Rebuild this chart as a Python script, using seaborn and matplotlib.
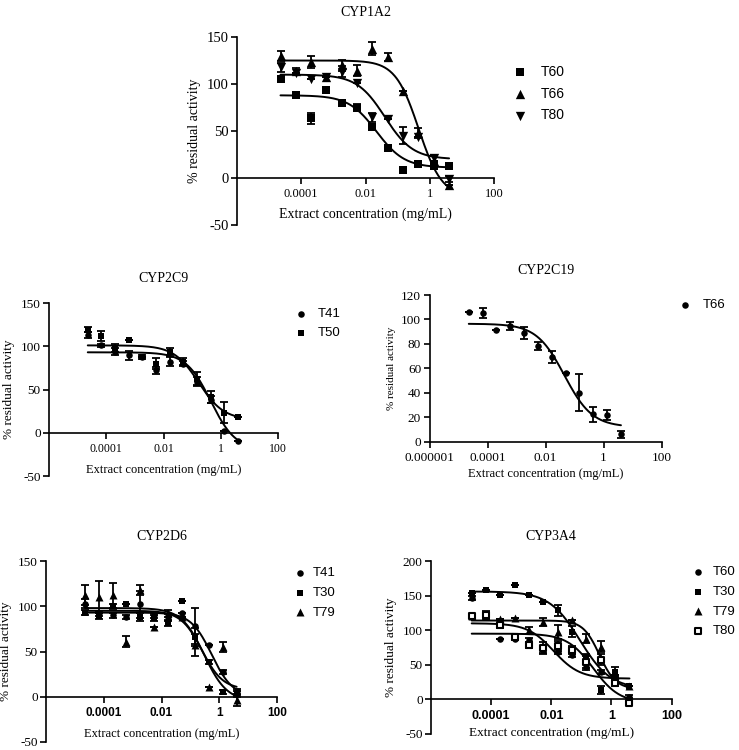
import numpy as np
import matplotlib
matplotlib.use('Agg')
import matplotlib.pyplot as plt
import seaborn as sns

# extract concentrations (mg/mL), serial 3-fold dilution
conc = [0.0000226, 0.0000677, 0.000203, 0.00061, 0.00183, 0.00549,
        0.0165, 0.0494, 0.148, 0.444, 1.333, 4.0]

# CYP1A2
cyp1a2_t60 = [105, 88, 63.5, 93.5, 79.4, 74.8, 54.7, 31.8, 8.8, 14.8, 12.4, 13.1]
cyp1a2_t60_err = [3, 0, 6, 0, 2, 4, 3, 0, 0, 0, 0, 0]
cyp1a2_t66 = [129.6, 114, 123.5, 107.6, 120, 114, 137.7, 128.8, 92.5, 47.7, 18, -7]
cyp1a2_t66_err = [5, 3, 6, 0, 6, 6, 7, 4, 0, 5, 0, 0]
cyp1a2_t80 = [117.6, 112, 104.9, 107, 113, 100.6, 64.6, 62.5, 45, 44, 21.2, -1]
cyp1a2_t80_err = [5, 0, 0, 0, 6, 0, 5, 0, 9, 0, 3, 3]

# CYP2C9
cyp2c9_t41 = [113, 101, 93.5, 89.6, 87.7, 72, 82, 80, 59, 38, 2, -9.2]
cyp2c9_t41_err = [3, 2, 4, 5, 2, 4, 5, 3, 5, 4, 0, 0]
cyp2c9_t50 = [119, 111.6, 98, 107, 88, 80, 93.5, 82, 62.7, 41.5, 23, 17.7]
cyp2c9_t50_err = [3, 6, 5, 0, 0, 6, 5, 4, 8, 7, 12, 0]

# CYP2C19
cyp2c19_t66 = [106.4, 105, 91.4, 94.6, 89.2, 78.3, 69, 55.9, 40, 22.4, 21.8, 6]
cyp2c19_t66_err = [0, 4, 0, 3, 5, 3, 5, 0, 15, 6, 4, 3]

# CYP2D6
cyp2d6_t41 = [103, 92, 90, 88, 102, 90, 88, 92, 78, 57, 27.6, 6]
cyp2d6_t41_err = [5, 3, 3, 2, 15, 3, 3, 0, 20, 0, 2, 3]
cyp2d6_t30 = [93, 89, 100, 102, 88, 87, 81, 105.8, 66, 38.6, 5, 3]
cyp2d6_t30_err = [3, 3, 3, 0, 4, 3, 3, 0, 10, 2, 2, 3]
cyp2d6_t79 = [112, 110, 112, 60.6, 118, 77, 92, 88, 57, 10.3, 55, -4]
cyp2d6_t79_err = [11, 18, 14, 6, 6, 0, 4, 0, 12, 0, 6, 6]

# CYP3A4
cyp3a4_t60 = [147, 120, 87, 88, 85.6, 71, 69, 64, 47, 40, 32, 3.8]
cyp3a4_t60_err = [3, 3, 0, 0, 3, 6, 4, 3, 4, 3, 3, 2]
cyp3a4_t30 = [154, 157.7, 150.5, 165, 150.5, 141, 129, 97.6, 61.5, 13.5, 40, 19.7]
cyp3a4_t30_err = [0, 0, 0, 0, 0, 0, 8, 8, 4, 6, 7, 0]
cyp3a4_t79 = [120, 121, 116.8, 117, 100, 112, 97.6, 114.4, 88, 76, 35, 20]
cyp3a4_t79_err = [0, 0, 0, 0, 5, 6, 10, 0, 6, 8, 0, 0]
cyp3a4_t80 = [120, 122, 107, 90, 78, 75, 77, 71, 54, 57, 23, -5]
cyp3a4_t80_err = [3, 6, 4, 4, 4, 8, 7, 6, 8, 8, 4, 3]

# fitted dose-response curves: top, bottom, IC50 (mg/mL), hill slope
fit_1a2_t60 = [88, 11, 0.022, 1.0]
fit_1a2_t66 = [125, -20, 0.45, 1.2]
fit_1a2_t80 = [110, 20, 0.04, 1.0]
fit_2c9_t41 = [93, -20, 0.45, 1.0]
fit_2c9_t50 = [101, 15, 0.17, 1.0]
fit_2c19_t66 = [96.5, 12, 0.045, 0.9]
fit_2d6_t41 = [93, 0, 0.55, 1.2]
fit_2d6_t30 = [95, 8, 0.25, 1.2]
fit_2d6_t79 = [98, -5, 0.3, 1.1]
fit_3a4_t60 = [95, -5, 0.25, 1.0]
fit_3a4_t30 = [156, 15, 0.09, 0.85]
fit_3a4_t79 = [114, 15, 0.4, 1.6]
fit_3a4_t80 = [110, 30, 0.012, 1.0]

SERIF = 'Liberation Serif'
SANS = 'Liberation Sans'
W, H = 739, 750


def rect(left, top, right, bottom):
    return [left / W, 1 - bottom / H, (right - left) / W, (bottom - top) / H]


def four_pl(x, p):
    top, bottom, ic50, hill = p
    return bottom + (top - bottom) / (1 + (x / ic50) ** hill)


def draw_panel(fig, box, title, series, ylim, yticks, xticks, xticklabels,
               bold_x=False, ms=22, fs_x=9, fs_y=10, xl=9, yl=9.5,
               xlpad=6, leg=None):
    ax = fig.add_axes(rect(*box))
    xs = np.logspace(np.log10(conc[0]), np.log10(conc[-1]), 200)
    for label, vals, err, fit, marker, filled in series:
        sns.lineplot(x=xs, y=four_pl(xs, fit), ax=ax, color='black', lw=1.4)
        ax.errorbar(conc, vals, yerr=err, fmt='none', ecolor='black',
                    elinewidth=1.3, capsize=3, capthick=1.3, zorder=3)
        size = ms * 1.5 if marker in ('^', 'v') else ms
        sns.scatterplot(x=conc, y=vals, ax=ax, marker=marker, s=size,
                        color='black' if filled else 'white',
                        edgecolor='black', linewidth=0 if filled else 1.5,
                        zorder=4, label=label)
    ax.set_xscale('log')
    ax.set_xlim(1e-6, 100)
    ax.set_ylim(*ylim)
    # spine position first: moving a spine resets the tick objects
    ax.spines['top'].set_visible(False)
    ax.spines['right'].set_visible(False)
    ax.spines['bottom'].set_position(('data', 0))
    for s in ('left', 'bottom'):
        ax.spines[s].set_linewidth(1.2)
        ax.spines[s].set_color('black')
    ax.tick_params(axis='both', width=1.2, length=4, direction='out',
                   color='black', labelcolor='black')
    ax.tick_params(axis='y', pad=2)
    ax.tick_params(axis='x', pad=3.5)
    ax.xaxis.set_minor_locator(matplotlib.ticker.NullLocator())
    ax.set_yticks(yticks)
    ax.set_yticklabels([str(t) for t in yticks], family=SERIF, size=fs_y)
    ax.set_xticks(xticks)
    ax.set_xticklabels(xticklabels, family=SANS if bold_x else SERIF,
                       weight='bold' if bold_x else 'normal', size=fs_x)
    ax.set_title(title, family=SERIF, size=10, pad=15)
    ax.set_xlabel('Extract concentration (mg/mL)', family=SERIF,
                  size=xl, labelpad=xlpad)
    ax.set_ylabel('% residual activity', family=SERIF, size=yl, labelpad=4)
    mx, tx, ry, gap, lfs = leg
    fs_px = lfs * 100 / 72
    ax.legend(loc='upper left',
              bbox_to_anchor=((mx - fs_px / 2) / W, 1 - (ry - fs_px * 0.45) / H),
              bbox_transform=fig.transFigure, frameon=False, borderpad=0,
              borderaxespad=0, handlelength=1.0,
              handletextpad=(tx - mx - fs_px / 2) / fs_px,
              labelspacing=(gap - fs_px * 0.99) / fs_px,
              prop={'family': SANS, 'size': lfs})
    return ax


sns.set_style('ticks')
plt.rcParams['axes.unicode_minus'] = False
plt.rcParams['text.color'] = 'black'
plt.rcParams['axes.labelcolor'] = 'black'
plt.rcParams['font.family'] = [SERIF, 'DejaVu Sans']

fig = plt.figure(figsize=(W / 100, H / 100), dpi=100)

even = [1e-4, 1e-2, 1, 100]
even_lbl = ['0.0001', '0.01', '1', '100']

draw_panel(fig, (237, 37, 494, 225), 'CYP1A2',
           [('T60', cyp1a2_t60, cyp1a2_t60_err, fit_1a2_t60, 's', True),
            ('T66', cyp1a2_t66, cyp1a2_t66_err, fit_1a2_t66, '^', True),
            ('T80', cyp1a2_t80, cyp1a2_t80_err, fit_1a2_t80, 'v', True)],
           (-50, 150), [-50, 0, 50, 100, 150], even, even_lbl,
           ms=30, fs_x=9, fs_y=10.5, xl=10, yl=10, xlpad=5,
           leg=(520, 541, 71, 21.5, 10))

draw_panel(fig, (49, 303, 278, 476), 'CYP2C9',
           [('T41', cyp2c9_t41, cyp2c9_t41_err, fit_2c9_t41, 'o', True),
            ('T50', cyp2c9_t50, cyp2c9_t50_err, fit_2c9_t50, 's', True)],
           (-50, 150), [-50, 0, 50, 100, 150], even, even_lbl,
           fs_x=8.5, fs_y=9.5, xl=9, yl=9.5, xlpad=6,
           leg=(301, 318, 314, 20, 9.5))

draw_panel(fig, (429.5, 295, 661.5, 441.7), 'CYP2C19',
           [('T66', cyp2c19_t66, cyp2c19_t66_err, fit_2c19_t66, 'o', True)],
           (0, 120), [0, 20, 40, 60, 80, 100, 120],
           [1e-6] + even, ['0.000001'] + even_lbl,
           fs_x=9.5, fs_y=9.5, xl=9, yl=8, xlpad=3,
           leg=(685, 703, 305, 20, 9.5))

draw_panel(fig, (46, 561, 277, 742), 'CYP2D6',
           [('T41', cyp2d6_t41, cyp2d6_t41_err, fit_2d6_t41, 'o', True),
            ('T30', cyp2d6_t30, cyp2d6_t30_err, fit_2d6_t30, 's', True),
            ('T79', cyp2d6_t79, cyp2d6_t79_err, fit_2d6_t79, '^', True)],
           (-50, 150), [-50, 0, 50, 100, 150], even, even_lbl,
           bold_x=True, fs_x=8.5, fs_y=9.5, xl=9, yl=9.5, xlpad=6,
           leg=(300, 313, 573, 20.5, 9.5))

draw_panel(fig, (431, 561, 671.5, 734), 'CYP3A4',
           [('T60', cyp3a4_t60, cyp3a4_t60_err, fit_3a4_t60, 'o', True),
            ('T30', cyp3a4_t30, cyp3a4_t30_err, fit_3a4_t30, 's', True),
            ('T79', cyp3a4_t79, cyp3a4_t79_err, fit_3a4_t79, '^', True),
            ('T80', cyp3a4_t80, cyp3a4_t80_err, fit_3a4_t80, 's', False)],
           (-50, 200), [-50, 0, 50, 100, 150, 200], even, even_lbl,
           bold_x=True, fs_x=9, fs_y=9.5, xl=9.5, yl=9.5, xlpad=4,
           leg=(698, 713, 572, 20.5, 9.5))

fig.savefig('out.png', dpi=100)
